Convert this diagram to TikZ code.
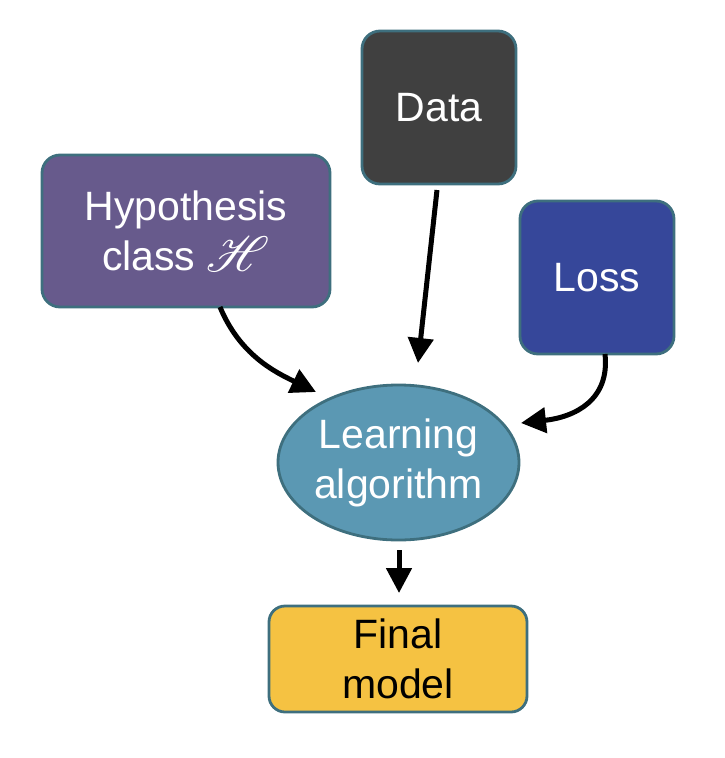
\documentclass[tikz,border=0pt]{standalone}
\usepackage{fontspec}
\setmainfont{Liberation Sans}
\usepackage{mathrsfs}
\usetikzlibrary{shapes.geometric,arrows.meta}
\definecolor{bord}{HTML}{3E6F7E}
\definecolor{datac}{HTML}{404040}
\definecolor{hypc}{HTML}{675A8C}
\definecolor{lossc}{HTML}{36479A}
\definecolor{algc}{HTML}{5B98B3}
\definecolor{finc}{HTML}{F5C242}
\begin{document}
\begin{tikzpicture}[x=1pt,y=-1pt,
  box/.style={draw=bord,line width=2.8pt,rounded corners=18pt,font=\fontsize{41}{50}\selectfont,align=center,text=white,inner sep=0pt},
  conn/.style={line width=5pt,-{Triangle[length=25pt,width=25pt]}}]
\useasboundingbox (0,0) rectangle (724,758);
\node[box,fill=datac,minimum width=154pt,minimum height=153pt] (data) at (439,107.5) {Data};
\node[box,fill=hypc,minimum width=288pt,minimum height=152pt] (hyp) at (186,231) {Hypothesis\\class \raisebox{-1pt}{\scalebox{2.0}{$\mathscr{H}$}}};
\node[box,fill=lossc,minimum width=154pt,minimum height=153pt] (loss) at (597,277.5) {Loss};
\node[ellipse,draw=bord,line width=2.8pt,fill=algc,minimum width=241pt,minimum height=155pt,inner sep=0pt,text=white,align=center,font=\fontsize{41}{50}\selectfont] (alg) at (398.5,462.5) {Learning\\algorithm};
\node[box,fill=finc,text=black,rounded corners=16pt,minimum width=258pt,minimum height=106pt] (fin) at (398,659) {Final\\model};
\coordinate (d1) at (437,190);
\coordinate (d2) at (418,363);
\draw[conn] (d1) -- (d2);
\coordinate (h1) at (220,307);
\coordinate (h2) at (316,392);
\draw[conn] (h1) .. controls (240,355) and (275,372) .. (h2);
\coordinate (l1) at (605,354);
\coordinate (l2) at (521,423);
\draw[conn] (l1) .. controls (610,400) and (575,417) .. (l2);
\coordinate (a1) at (399,550);
\coordinate (a2) at (399,593);
\draw[conn] (a1) -- (a2);
\end{tikzpicture}
\end{document}
